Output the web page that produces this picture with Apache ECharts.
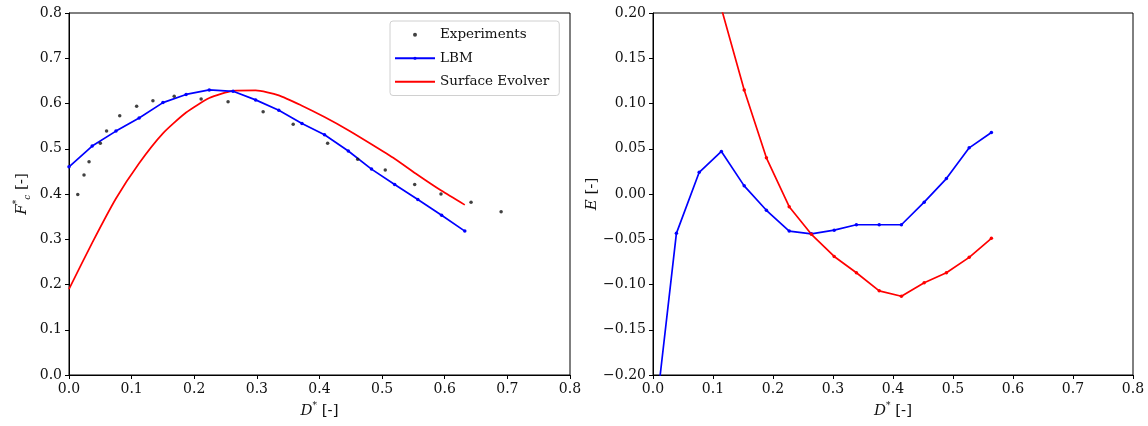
<!DOCTYPE html>
<html>
<head>
<meta charset="utf-8">
<script src="https://cdn.jsdelivr.net/npm/echarts@6/dist/echarts.min.js"></script>
<style>
html,body{margin:0;padding:0;background:#fff;}
#c{width:1148px;height:426px;}
</style>
</head>
<body>
<div id="c"></div>
<script>
// ---- Left panel: F*_c vs D* ----
const dStar = [0.000,0.037,0.075,0.112,0.150,0.187,0.224,0.262,0.298,0.335,0.372,0.408,0.446,0.483,0.520,0.557,0.595,0.632];
const lbmF  = [0.460,0.506,0.539,0.568,0.602,0.620,0.630,0.627,0.608,0.585,0.556,0.531,0.495,0.455,0.421,0.388,0.353,0.318];
const seF   = [0.190,0.292,0.390,0.468,0.534,0.580,0.612,0.628,0.629,0.618,0.595,0.570,0.541,0.510,0.478,0.442,0.407,0.376];
const expD  = [0.014,0.024,0.032,0.050,0.060,0.081,0.108,0.134,0.168,0.211,0.254,0.310,0.358,0.413,0.461,0.505,0.552,0.594,0.642,0.690];
const expF  = [0.399,0.442,0.471,0.512,0.539,0.573,0.594,0.606,0.616,0.610,0.604,0.582,0.554,0.512,0.477,0.453,0.421,0.400,0.382,0.361];
// ---- Right panel: E vs D* ----
const eD    = [0.002,0.039,0.077,0.114,0.152,0.189,0.227,0.264,0.302,0.339,0.377,0.414,0.452,0.489,0.527,0.564];
const lbmE  = [-0.258,-0.0435,0.024,0.047,0.009,-0.018,-0.041,-0.044,-0.040,-0.034,-0.034,-0.034,-0.009,0.017,0.051,0.068];
const seE   = [null,null,0.310,0.205,0.115,0.040,-0.014,-0.0445,-0.069,-0.087,-0.107,-0.113,-0.098,-0.087,-0.070,-0.049];
// ---- Names ----
const seriesNames = ['Experiments','LBM','Surface Evolver'];

const pairs = (xs, ys) => xs.map((x,i)=>[x, ys[i]]).filter(p => p[1] !== null);

const FONT = 'DejaVu Serif';
const TXT = '#111';
const BLUE = '#0000ff', RED = '#ff0000';
const TICKFS = 14;

const rich = {
  i:   {fontFamily: FONT, fontStyle: 'italic', fontSize: 15, color: TXT, lineHeight: 20},
  n:   {fontFamily: FONT, fontSize: 15, color: TXT, lineHeight: 20},
  sup: {fontFamily: FONT, fontSize: 9, color: TXT, verticalAlign: 'top', lineHeight: 12},
  sub: {fontFamily: FONT, fontStyle: 'italic', fontSize: 9, color: TXT, verticalAlign: 'bottom', lineHeight: 10}
};

function xAxisCfg(gridIndex){
  return {
    type: 'value', gridIndex, min: 0, max: 0.8, interval: 0.1,
    name: '{i|D}{sup|*}{n| [-]}', nameLocation: 'middle', nameGap: 24,
    nameTextStyle: {rich},
    axisLine: {show: true, onZero: false, lineStyle: {color: '#000', width: 1}},
    axisTick: {show: true, inside: false, length: 4, lineStyle: {color: '#000'}},
    axisLabel: {fontFamily: FONT, fontSize: TICKFS, color: TXT, margin: 7, formatter: v => v.toFixed(1)},
    splitLine: {show: false}
  };
}

const option = {
  animation: false,
  backgroundColor: '#fff',
  grid: [
    {left: 69, top: 13, width: 501, height: 362, show: true, borderColor: '#000', borderWidth: 1, backgroundColor: 'transparent'},
    {left: 653, top: 13, width: 480, height: 362, show: true, borderColor: '#000', borderWidth: 1, backgroundColor: 'transparent'}
  ],
  legend: {
    data: [
      {name: seriesNames[0], icon: 'circle'},
      {name: seriesNames[1]},
      {name: seriesNames[2], itemStyle: {opacity: 0}}
    ],
    orient: 'vertical',
    left: 390, top: 21,
    itemWidth: 40, itemHeight: 4, itemGap: 8,
    padding: [6, 10, 6, 4],
    backgroundColor: '#fff',
    borderColor: '#d0d0d0', borderWidth: 1, borderRadius: 3,
    textStyle: {fontFamily: FONT, fontSize: 13.5, color: TXT, lineHeight: 15.5},
    selectedMode: false
  },
  xAxis: [xAxisCfg(0), xAxisCfg(1)],
  yAxis: [
    {
      type: 'value', gridIndex: 0, min: 0, max: 0.8, interval: 0.1,
      name: '{i|F}{sup|*}{sub|c}{n| [-]}', nameLocation: 'middle', nameGap: 37, nameRotate: 90,
      nameTextStyle: {rich},
      axisLine: {show: true, onZero: false, lineStyle: {color: '#000', width: 1}},
      axisTick: {show: true, inside: false, length: 4, lineStyle: {color: '#000'}},
      axisLabel: {fontFamily: FONT, fontSize: TICKFS, color: TXT, margin: 7, formatter: v => v.toFixed(1)},
      splitLine: {show: false}
    },
    {
      type: 'value', gridIndex: 1, min: -0.2, max: 0.2, interval: 0.05,
      name: '{i|E}{n| [-]}', nameLocation: 'middle', nameGap: 50, nameRotate: 90,
      nameTextStyle: {rich},
      axisLine: {show: true, onZero: false, lineStyle: {color: '#000', width: 1}},
      axisTick: {show: true, inside: false, length: 4, lineStyle: {color: '#000'}},
      axisLabel: {fontFamily: FONT, fontSize: TICKFS, color: TXT, margin: 7,
        formatter: v => { const s = (Math.abs(v) < 1e-9 ? 0 : v).toFixed(2); return s.replace('-', '\u2212'); }},
      splitLine: {show: false}
    }
  ],
  series: [
    {
      name: seriesNames[0], type: 'scatter', xAxisIndex: 0, yAxisIndex: 0,
      data: pairs(expD, expF), symbol: 'circle', symbolSize: 3.5,
      itemStyle: {color: '#111'}, z: 5
    },
    {
      name: seriesNames[1], type: 'line', xAxisIndex: 0, yAxisIndex: 0,
      data: pairs(dStar, lbmF), symbol: 'circle', symbolSize: 3.5, showAllSymbol: true,
      lineStyle: {color: BLUE, width: 1.7}, itemStyle: {color: BLUE}, z: 3
    },
    {
      name: seriesNames[2], type: 'line', xAxisIndex: 0, yAxisIndex: 0,
      data: pairs(dStar, seF), symbol: 'none', smooth: 0.2,
      lineStyle: {color: RED, width: 1.7}, itemStyle: {color: RED}, z: 2
    },
    {
      name: 'LBM E', type: 'line', xAxisIndex: 1, yAxisIndex: 1,
      data: pairs(eD, lbmE), symbol: 'circle', symbolSize: 3.5, showAllSymbol: true, clip: true,
      lineStyle: {color: BLUE, width: 1.7}, itemStyle: {color: BLUE}
    },
    {
      name: 'SE E', type: 'line', xAxisIndex: 1, yAxisIndex: 1,
      data: pairs(eD, seE), symbol: 'circle', symbolSize: 3.5, showAllSymbol: true, clip: true,
      lineStyle: {color: RED, width: 1.7}, itemStyle: {color: RED}
    }
  ]
};

const chart = echarts.init(document.getElementById('c'), null, {renderer: 'canvas'});
chart.setOption(option);
</script>
</body>
</html>
